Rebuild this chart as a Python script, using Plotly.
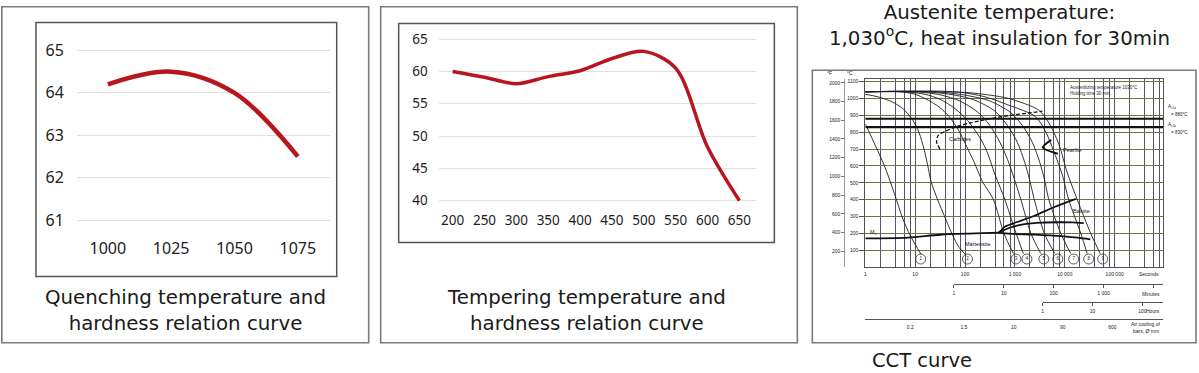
import numpy as np
import plotly.graph_objects as go

W, H = 1199, 373
def fx(px): return px / W
def fy(py): return 1 - py / H

# ---------------- data ----------------
quench_temp = [1000, 1025, 1050, 1075]
quench_hrc = [64.2, 64.5, 64.0, 62.5]
quench_yticks = [61, 62, 63, 64, 65]

temper_temp = [200, 250, 300, 350, 400, 450, 500, 550, 600, 650]
temper_hrc = [60.0, 59.1, 58.1, 59.2, 60.1, 62.0, 63.1, 60.5, 48.3, 40.0]
temper_yticks = [40, 45, 50, 55, 60, 65]

# CCT cooling curves: time (s), temperature (degC)
c1_t = [1.0, 1.6, 2.5, 4.0, 5.6, 7.9, 11.2, 13.2]
c1_T = [850, 720, 590, 420, 290, 190, 110, 75]
c2_t = [1.0, 1.9, 3.5, 5.6, 8.9, 12, 15, 17.8, 20.9, 28.2, 41.7, 56.2, 75.9, 105]
c2_T = [1025, 1008, 979, 941, 873, 797, 701, 606, 507, 400, 280, 190, 117, 70]
c3_t = [1, 4.8, 9.5, 16.2, 30.2, 47.9, 75.9, 102, 151, 224, 372, 603, 933]
c3_T = [1040, 1040, 1027, 998, 950, 893, 807, 730, 625, 507, 400, 200, 80]
c4_t = [1, 6.3, 15.8, 31.6, 63.1, 112, 178, 263, 398, 631, 1000, 1480]
c4_T = [1040, 1040, 1025, 995, 940, 870, 790, 700, 550, 400, 220, 80]
c5_t = [1, 10, 31.6, 79.4, 178, 316, 501, 708, 955, 1320, 2090, 3310]
c5_T = [1040, 1040, 1022, 985, 920, 840, 740, 640, 530, 400, 200, 80]
c6_t = [1, 15.8, 63.1, 158, 398, 708, 1120, 1580, 2000, 2450, 3890, 6310]
c6_T = [1040, 1040, 1020, 990, 925, 840, 740, 620, 510, 400, 200, 80]
c7_t = [1, 25.1, 100, 316, 794, 1410, 2240, 3160, 3980, 4790, 8320, 13200]
c7_T = [1040, 1040, 1020, 985, 920, 840, 740, 620, 510, 400, 200, 80]
c8_t = [1, 63, 251, 759, 2570, 4070, 6460, 8910, 12000, 20900, 28200]
c8_T = [1040, 1040, 1010, 960, 893, 807, 663, 548, 400, 200, 80]
c9_t = [1, 100, 316, 759, 3020, 4790, 7590, 11200, 17800, 33100, 51300]
c9_T = [1040, 1036, 1020, 1000, 931, 855, 730, 560, 400, 200, 80]
curve_numbers = ["1", "2", "3", "4", "5", "6", "7", "8", "9"]
curve_label_t = [12.9, 112, 1050, 1740, 3800, 7240, 15100, 30200, 57500]
curve_label_T = 48

ms_t = [1, 7.1, 31.6, 158, 479]
ms_T = [170, 175, 192, 200, 205]
bain_up_t = [479, 631, 1000, 2400, 6030, 16600]
bain_up_T = [205, 240, 263, 303, 355, 405]
bain_mid_t = [479, 759, 1580, 3470, 7590, 14100, 24000]
bain_mid_T = [205, 232, 255, 264, 266, 265, 261]
bain_low_t = [479, 759, 2510, 8710, 17800, 32400]
bain_low_T = [205, 198, 193, 184, 175, 165]
carb_t = [31.6, 26.9, 28.8, 39.8, 63.1, 126, 316, 794, 2000, 3550]
carb_T = [700, 740, 780, 805, 830, 855, 880, 900, 915, 925]
pearl_t = [5370, 3630, 7240]
pearl_T = [755, 710, 672]
ac1e_T = 880
ac1b_T = 830

sec_ticks = [1, 10, 100, 1000, 10000, 100000]
sec_labels = ["1", "10", "100", "1 000", "10 000", "100 000"]
min_ticks = [1, 10, 100, 1000]
min_labels = ["1", "10", "100", "1 000"]
hour_ticks = [1, 10, 100]
hour_labels = ["1", "10", "100"]
bar_t = [8, 95, 950, 9100, 90000]
bar_labels = ["0.2", "1.5", "10", "90", "600"]
degC_ticks = [100, 200, 300, 400, 500, 600, 700, 800, 900, 1000, 1100]
degF_ticks = [200, 400, 600, 800, 1000, 1200, 1400, 1600, 1800, 2000]

# ---------------- figure ----------------
RED = '#b8161e'
CAP_FONT = dict(family='DejaVu Sans, sans-serif', size=19.8, color='#1a1a1a')
TICK_FONT = 'Noto Sans, sans-serif'
TINY = dict(family='Liberation Sans, Arial, sans-serif', size=5, color='#222')
LBL = dict(family='Liberation Sans, Arial, sans-serif', size=5.5, color='#111')

fig = go.Figure()
fig.add_trace(go.Scatter(x=quench_temp, y=quench_hrc, mode='lines', xaxis='x', yaxis='y',
                         line=dict(color=RED, width=4.5, shape='spline', smoothing=1.0), hoverinfo='skip'))
fig.add_trace(go.Scatter(x=temper_temp, y=temper_hrc, mode='lines', xaxis='x2', yaxis='y2',
                         line=dict(color=RED, width=3.5, shape='spline', smoothing=0.9), hoverinfo='skip'))

curves = [(c1_t, c1_T), (c2_t, c2_T), (c3_t, c3_T), (c4_t, c4_T), (c5_t, c5_T),
          (c6_t, c6_T), (c7_t, c7_T), (c8_t, c8_T), (c9_t, c9_T)]
xmax_log = 5.97
for t, T in curves:
    fig.add_trace(go.Scatter(x=t, y=T, mode='lines', xaxis='x3', yaxis='y3',
                             line=dict(color='#1e1e1e', width=0.9, shape='spline', smoothing=0.8),
                             hoverinfo='skip'))
for T in (ac1e_T, ac1b_T):
    fig.add_trace(go.Scatter(x=[1, 10 ** xmax_log], y=[T, T], mode='lines', xaxis='x3', yaxis='y3',
                             line=dict(color='#111', width=2.2), hoverinfo='skip'))
for t, T, w in [(ms_t, ms_T, 1.8), (bain_up_t, bain_up_T, 1.8), (bain_mid_t, bain_mid_T, 1.8),
                (bain_low_t, bain_low_T, 1.8), (pearl_t, pearl_T, 2.0)]:
    fig.add_trace(go.Scatter(x=t, y=T, mode='lines', xaxis='x3', yaxis='y3',
                             line=dict(color='#111', width=w, shape='spline', smoothing=0.8),
                             hoverinfo='skip'))
fig.add_trace(go.Scatter(x=carb_t, y=carb_T, mode='lines', xaxis='x3', yaxis='y3',
                         line=dict(color='#111', width=1.3, dash='4px,2px', shape='spline', smoothing=0.8),
                         hoverinfo='skip'))
fig.add_trace(go.Scatter(x=curve_label_t, y=[curve_label_T] * len(curve_label_t), mode='markers+text',
                         xaxis='x3', yaxis='y3', text=curve_numbers, textposition='middle center',
                         textfont=dict(family='Liberation Sans, sans-serif', size=4.5, color='#222'),
                         marker=dict(symbol='circle-open', size=10, color='#333', line=dict(width=0.8)),
                         hoverinfo='skip'))
# dummy traces so the extra axes are drawn
fig.add_trace(go.Scatter(x=[1], y=[100], xaxis='x3', yaxis='y4', mode='markers',
                         marker=dict(opacity=0), hoverinfo='skip'))
for ax in ('x5', 'x6', 'x7'):
    fig.add_trace(go.Scatter(x=[1], y=[0.5], xaxis=ax, yaxis='y5', mode='markers',
                             marker=dict(opacity=0), hoverinfo='skip'))

cx0, cx1 = 865, 1163
cy0, cy1 = 75.3, 268.3
cwidth = cx1 - cx0
def log_px(lg): return cx0 + lg / xmax_log * cwidth

minor_t = [m * 10 ** d for d in range(6) for m in (2, 4, 6, 8)]
ymax_c = 1114
F_lo, F_hi = 32, ymax_c * 9 / 5 + 32
VGRID = '#55556a'

layout = dict(
    width=W, height=H, margin=dict(l=0, r=0, t=0, b=0),
    paper_bgcolor='white', plot_bgcolor='rgba(0,0,0,0)', showlegend=False,
    xaxis=dict(domain=[fx(76), fx(329)], range=[987.8, 1087.6], tickvals=quench_temp,
               showgrid=False, zeroline=False, showline=False, ticks='', anchor='y',
               tickfont=dict(family=TICK_FONT, size=16, color='#222'), ticklabelstandoff=7),
    yaxis=dict(domain=[fy(230), fy(40)], range=[60.77, 65.13], tickvals=quench_yticks,
               showgrid=True, gridcolor='#e0e0e0', gridwidth=1, zeroline=False, ticks='', anchor='x',
               tickfont=dict(family=TICK_FONT, size=16, color='#222'), ticklabelstandoff=12),
    xaxis2=dict(domain=[fx(438), fx(756)], range=[178.05, 676.65], tickvals=temper_temp,
                showgrid=False, zeroline=False, showline=False, ticks='', anchor='y2',
                tickfont=dict(family=TICK_FONT, size=13.5, color='#222'), ticklabelstandoff=5),
    yaxis2=dict(domain=[fy(205), fy(25)], range=[39.25, 66.36], tickvals=temper_yticks,
                showgrid=True, gridcolor='#e0e0e0', gridwidth=1, zeroline=False, ticks='', anchor='x2',
                tickfont=dict(family=TICK_FONT, size=13.5, color='#222'), ticklabelstandoff=10),
    xaxis3=dict(domain=[fx(cx0), fx(cx1)], type='log', range=[0, xmax_log], tickvals=sec_ticks,
                ticktext=sec_labels, showgrid=True, gridcolor=VGRID, gridwidth=0.9,
                minor=dict(tickvals=minor_t, showgrid=True, gridcolor=VGRID, gridwidth=0.9, ticks=''),
                zeroline=False, showline=True, mirror=True, linecolor='#555', linewidth=1,
                ticks='', anchor='y3', tickfont=TINY, ticklabelstandoff=2),
    yaxis3=dict(domain=[fy(cy1), fy(cy0)], range=[0, ymax_c], tickvals=degC_ticks,
                showgrid=True, gridcolor='#737142', gridwidth=0.9, zeroline=False,
                showline=True, mirror=True, linecolor='#555', linewidth=1,
                ticks='outside', ticklen=5, tickcolor='#555', tickwidth=0.8, anchor='x3', tickfont=TINY),
    yaxis4=dict(overlaying='y3', anchor='free', position=fx(844), side='left', range=[F_lo, F_hi],
                tickvals=degF_ticks, showgrid=False, zeroline=False, showline=True, linecolor='#999',
                linewidth=1, ticks='outside', ticklen=3, tickcolor='#777', tickwidth=0.8, tickfont=TINY),
    yaxis5=dict(domain=[fy(cy1), fy(cy0)], range=[0, 1], visible=False, anchor='x5'),
    xaxis5=dict(domain=[fx(log_px(np.log10(60))), fx(cx1)], type='log',
                range=[0, xmax_log - np.log10(60)], anchor='free', position=fy(286),
                tickvals=min_ticks, ticktext=min_labels, showgrid=False, zeroline=False,
                minor=dict(tickvals=[10000], ticks='outside', ticklen=3, tickcolor='#555', showgrid=False),
                showline=True, linecolor='#555', linewidth=0.9, ticks='outside', ticklen=3,
                tickcolor='#555', tickwidth=0.8, tickfont=TINY, ticklabelstandoff=1),
    xaxis6=dict(domain=[fx(log_px(np.log10(3600))), fx(cx1)], type='log',
                range=[0, xmax_log - np.log10(3600)], anchor='free', position=fy(304.3),
                tickvals=hour_ticks, ticktext=hour_labels, showgrid=False, zeroline=False,
                showline=True, linecolor='#555', linewidth=0.9, ticks='outside', ticklen=3,
                tickcolor='#555', tickwidth=0.8, tickfont=TINY, ticklabelstandoff=1),
    xaxis7=dict(domain=[fx(cx0), fx(cx1)], type='log', range=[0, xmax_log], anchor='free',
                position=fy(321.7), tickvals=bar_t, ticktext=bar_labels, showgrid=False,
                zeroline=False, showline=True, linecolor='#555', linewidth=0.9, ticks='',
                tickfont=TINY, ticklabelstandoff=3),
)
fig.update_layout(**layout)

def rect(x0, y0, x1, y1, color, width):
    return dict(type='rect', xref='paper', yref='paper', x0=fx(x0), x1=fx(x1), y0=fy(y1), y1=fy(y0),
                line=dict(color=color, width=width), fillcolor='rgba(0,0,0,0)', layer='above')

shapes = [
    rect(0.8, 0.8, 368, 346, '#7a7a7a', 1.6),
    rect(35, 17, 336, 278, '#555', 1.5),
    rect(380, 0.8, 797, 346, '#7a7a7a', 1.6),
    rect(398, 18, 774, 243, '#555', 1.5),
    rect(812, 66, 1196, 346, '#7a7a7a', 1.6),
]
fig.update_layout(shapes=shapes)

ann = []
def pann(text, x, y, font, xanchor='center', yanchor='middle', align='center'):
    ann.append(dict(text=text, xref='paper', yref='paper', x=fx(x), y=fy(y), showarrow=False,
                    font=font, xanchor=xanchor, yanchor=yanchor, align=align))
def dann(text, t, T, xanchor='center', yanchor='middle', font=LBL):
    ann.append(dict(text=text, xref='x3', yref='y3', x=np.log10(t), y=T, showarrow=False,
                    font=font, xanchor=xanchor, yanchor=yanchor, align='left'))

pann("Quenching temperature and<br>hardness relation curve", 185, 313, CAP_FONT)
pann("Tempering temperature and<br>hardness relation curve", 586, 312.5, CAP_FONT)
pann("Austenite temperature:<br>1,030<sup>o</sup>C, heat insulation for 30min", 999, 20, CAP_FONT)
pann("CCT curve", 922, 364, dict(family='DejaVu Sans, sans-serif', size=19.5, color='#1a1a1a'))

pann("°F", 829, 69, TINY)
pann("°C", 850, 69, TINY)
pann("Seconds", 1161, 275.7, TINY, xanchor='right')
pann("Minutes", 1162, 296, TINY, xanchor='right')
pann("Hours", 1162, 313, TINY, xanchor='right')
pann("Air cooling of", 1163, 326.7, TINY, xanchor='right')
pann("bars, Ø mm", 1161, 334, TINY, xanchor='right')
pann("A<sub>c1e</sub>", 1166, 104, dict(TINY, size=4.5), xanchor='left')
pann("= 880°C", 1169, 112, dict(TINY, size=4.5), xanchor='left')
pann("A<sub>c1b</sub>", 1166, 122, dict(TINY, size=4.5), xanchor='left')
pann("= 830°C", 1169, 130, dict(TINY, size=4.5), xanchor='left')

dann("Carbides", 81, 762)
dann("Pearlite", 8300, 695, xanchor='left')
dann("Bainite", 21900, 333)
dann("Martensite", 178, 136)
dann("M<sub>s</sub>", 1.12, 203, xanchor='left')
dann("Austenitizing temperature 1030°C<br>Holding time 30 min.", 11500, 1090, xanchor='left',
     yanchor='top', font=dict(TINY, size=4.5))

fig.update_layout(annotations=ann)
fig.write_html("out.html", config={'displayModeBar': False},
               post_script="document.body.style.margin='0px';")
